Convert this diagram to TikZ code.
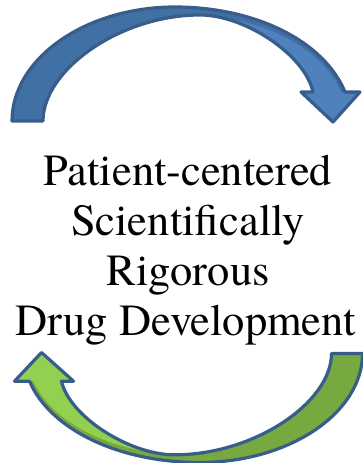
\documentclass[tikz,border=0pt]{standalone}
\usepackage{fontspec}
\setmainfont{texgyretermes-regular.otf}
\definecolor{edge}{HTML}{385D8A}
\definecolor{bluedark}{HTML}{4170A5}
\definecolor{bluelight}{HTML}{4F81BD}
\definecolor{greendark}{HTML}{78A940}
\definecolor{greenlight}{HTML}{92D050}
\begin{document}
\begin{tikzpicture}[x=1pt,y=-1pt,
  outline/.style={draw=edge,line width=3.2pt,line join=round},
  txt/.style={anchor=base,inner sep=0pt,font=\fontsize{44.5}{50}\selectfont},
  arrowfull/.style={insert path={(12,121) .. controls (12,59) and (85,7) .. (175,7)
      .. controls (255,7) and (324,41) .. (345,92) -- (360,92) -- (333,122) -- (301,92) -- (313,92)
      .. controls (305,55) and (245,15) .. (200,15)
      .. controls (120,15) and (43,70) .. (43,121) -- cycle}},
  arrowfront/.style={insert path={(210,16) .. controls (265,21) and (322,48) .. (341,92)
      -- (360,92) -- (333,122) -- (301,92) -- (313,92)
      .. controls (305,55) and (245,15) .. (200,15) -- cycle}}]
\useasboundingbox (0,0) rectangle (362,463);
% top arrow
\fill[bluedark,arrowfull];
\fill[bluelight,arrowfront];
\draw[outline,arrowfull];
% bottom arrow (same shape turned half a turn, a little flatter)
\begin{scope}[shift={(0,353)},yscale=0.956,shift={(0,-353)},rotate around={180:(187.25,237.25)}]
\fill[greendark,arrowfull];
\fill[greenlight,arrowfront];
\draw[outline,arrowfull];
\end{scope}
% text
\node[txt] (t1) at (188,185) {Patient-centered};
\node[txt] (t2) at (188,235) {Scientifically};
\node[txt] (t3) at (188,285) {Rigorous};
\node[txt] (t4) at (186,335) {Drug Development};
\end{tikzpicture}
\end{document}
